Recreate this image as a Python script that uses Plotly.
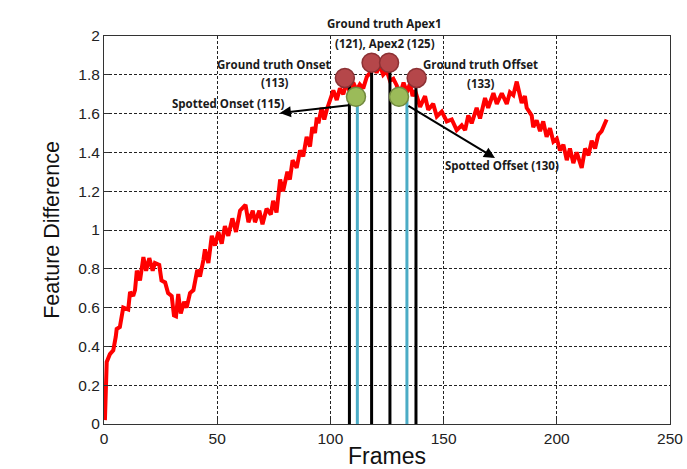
import plotly.graph_objects as go

# ---- data ----
frames = [0.4, 0.8, 1.2, 2.6, 4.1, 5.2, 5.6, 7.0, 7.8, 8.5, 10.7, 11.5, 12.9, 13.7, 14.5, 15.9,
          17.4, 18.6, 20.0, 21.5, 22.5, 24.4, 25.4, 27.0, 28.3, 29.9, 30.9, 31.8, 32.8, 33.9,
          35.4, 36.5, 38.0, 39.5, 41.2, 42.4, 43.9, 44.6, 46.1, 47.6, 49.0, 50.5, 52.0, 53.4,
          54.9, 56.7, 58.3, 60.1, 62.5, 63.8, 65.7, 66.7, 68.6, 70.0, 71.8, 73.7, 74.7, 76.2,
          77.8, 79.1, 81.0, 82.1, 83.3, 85.1, 86.6, 88.0, 89.5, 91.0, 92.0, 93.2, 94.0, 94.7,
          96.1, 97.3, 98.4, 99.7, 101.3, 102.8, 104.2, 105.7, 107.2, 108.6, 110.1, 111.6, 113.0,
          114.5, 116.1, 117.5, 119.0, 120.4, 121.8, 123.3, 124.9, 126.3, 127.8, 129.3, 130.8,
          132.3, 133.8, 135.2, 136.3, 137.4, 139.6, 141.8, 143.2, 145.4, 147.0, 149.2, 151.4,
          153.6, 155.8, 158.0, 159.5, 160.9, 162.4, 164.6, 166.1, 168.3, 169.7, 172.0, 173.5,
          175.7, 177.9, 179.3, 180.8, 182.3, 183.7, 184.5, 185.9, 186.7, 188.9, 189.6, 191.1,
          192.6, 194.0, 195.5, 197.0, 198.5, 200.0, 201.4, 202.9, 204.4, 205.8, 207.3, 208.8,
          211.0, 212.5, 214.0, 215.4, 216.9, 218.3, 219.8, 222.0]
feature_diff = [0.02, 0.12, 0.32, 0.36, 0.38, 0.45, 0.49, 0.50, 0.555, 0.60, 0.59, 0.68, 0.66,
                0.69, 0.79, 0.74, 0.86, 0.79, 0.855, 0.79, 0.83, 0.82, 0.74, 0.73, 0.675, 0.66,
                0.56, 0.555, 0.67, 0.57, 0.63, 0.60, 0.675, 0.69, 0.795, 0.76, 0.845, 0.90, 0.83,
                0.97, 0.92, 0.99, 0.93, 1.02, 0.97, 1.06, 0.99, 1.10, 1.13, 1.04, 1.10, 1.04,
                1.10, 1.03, 1.11, 1.08, 1.15, 1.09, 1.26, 1.20, 1.30, 1.26, 1.36, 1.32, 1.41,
                1.38, 1.48, 1.43, 1.53, 1.50, 1.58, 1.55, 1.63, 1.57, 1.62, 1.67, 1.72, 1.67,
                1.73, 1.70, 1.76, 1.71, 1.76, 1.72, 1.75, 1.73, 1.79, 1.81, 1.85, 1.81, 1.85,
                1.80, 1.82, 1.77, 1.78, 1.745, 1.70, 1.76, 1.71, 1.755, 1.69, 1.72, 1.635, 1.69,
                1.62, 1.65, 1.585, 1.61, 1.56, 1.57, 1.515, 1.54, 1.515, 1.59, 1.55, 1.63, 1.575,
                1.68, 1.63, 1.705, 1.65, 1.705, 1.65, 1.71, 1.695, 1.765, 1.705, 1.655, 1.69,
                1.63, 1.59, 1.53, 1.565, 1.51, 1.56, 1.48, 1.525, 1.455, 1.47, 1.41, 1.44, 1.36,
                1.42, 1.345, 1.40, 1.32, 1.42, 1.385, 1.46, 1.42, 1.49, 1.51, 1.57]

# ground-truth markers (onset, apex1, apex2, offset) and their stems
gt_x = [106.4, 118.2, 125.9, 138.1]
gt_y = [1.784, 1.862, 1.862, 1.784]
gt_line_x = [108.4, 118.2, 126.3, 137.8]
# spotted markers (onset, offset) and their stems
sp_x = [111.3, 130.3]
sp_y = [1.687, 1.687]
sp_line_x = [111.9, 133.8]

x_ticks = [0, 50, 100, 150, 200, 250]
y_ticks = [0, 0.2, 0.4, 0.6, 0.8, 1, 1.2, 1.4, 1.6, 1.8, 2]
y_tick_text = ["0", "0.2", "0.4", "0.6", "0.8", "1", "1.2", "1.4", "1.6", "1.8", "2"]

fig = go.Figure()

fig.add_trace(go.Scatter(x=frames, y=feature_diff, mode="lines",
                         line=dict(color="#ff0000", width=4), showlegend=False,
                         hoverinfo="skip"))

for lx, top in zip(gt_line_x, gt_y):
    fig.add_trace(go.Scatter(x=[lx, lx], y=[0, top], mode="lines",
                             line=dict(color="black", width=3), showlegend=False))
for lx, top in zip(sp_line_x, sp_y):
    fig.add_trace(go.Scatter(x=[lx, lx], y=[0, top], mode="lines",
                             line=dict(color="#4bacc6", width=3), showlegend=False))

fig.add_trace(go.Scatter(x=gt_x, y=gt_y, mode="markers",
                         marker=dict(size=19, color="#b5474a",
                                     line=dict(color="#8c3134", width=1.5)),
                         showlegend=False))
fig.add_trace(go.Scatter(x=sp_x, y=sp_y, mode="markers",
                         marker=dict(size=19, color="#9bbb59",
                                     line=dict(color="#71893f", width=1.5)),
                         showlegend=False))

lab_font = dict(family="Open Sans", size=11.5, color="#1a1a1a", weight="bold")

annots = [
    dict(text="Ground truth Apex1", xref="paper", yref="paper", x=0.495, y=1.0335),
    dict(text="(121), Apex2 (125)", xref="x", yref="y", x=123.9, y=1.962),
    dict(text="Ground truth Onset", xref="x", yref="y", x=75.1, y=1.854),
    dict(text="(113)", xref="x", yref="y", x=75.5, y=1.759),
    dict(text="Spotted Onset (115)", xref="x", yref="y", x=54.8, y=1.653),
    dict(text="Ground truth Offset", xref="x", yref="y", x=166.5, y=1.854),
    dict(text="(133)", xref="x", yref="y", x=166.5, y=1.756),
    dict(text="Spotted Offset (130)", xref="x", yref="y", x=176.0, y=1.335),
]
for a in annots:
    fig.add_annotation(showarrow=False, font=lab_font, xanchor="center", yanchor="middle", **a)

# arrows
fig.add_annotation(x=77.7, y=1.603, ax=108.7, ay=1.644, xref="x", yref="y",
                   axref="x", ayref="y", showarrow=True, arrowhead=2, arrowsize=1.1,
                   arrowwidth=2, arrowcolor="black", text="")
fig.add_annotation(x=172.7, y=1.371, ax=133.8, ay=1.644, xref="x", yref="y",
                   axref="x", ayref="y", showarrow=True, arrowhead=2, arrowsize=1.1,
                   arrowwidth=2, arrowcolor="black", text="")

axis_common = dict(showline=True, linecolor="#333", linewidth=1, mirror=True,
                   ticks="inside", ticklen=5, tickcolor="#333", showgrid=True,
                   gridcolor="#222", gridwidth=1, griddash="3px,2px", zeroline=False,
                   automargin=False,
                   tickfont=dict(family="Liberation Sans", size=15.5, color="#222"))

fig.update_xaxes(range=[0, 250], tickvals=x_ticks, **axis_common,
                 title=dict(text="Frames", font=dict(family="Liberation Sans", size=23,
                                                     color="#111"), standoff=2))
fig.update_yaxes(range=[0, 2], tickvals=y_ticks, ticktext=y_tick_text, **axis_common,
                 title=dict(text="Feature Difference",
                            font=dict(family="Liberation Sans", size=21.5, color="#111"),
                            standoff=12))

fig.update_layout(width=687, height=469, margin=dict(l=104, r=17, t=36, b=45),
                  plot_bgcolor="white", paper_bgcolor="white", showlegend=False)

fig.write_html("out.html")
